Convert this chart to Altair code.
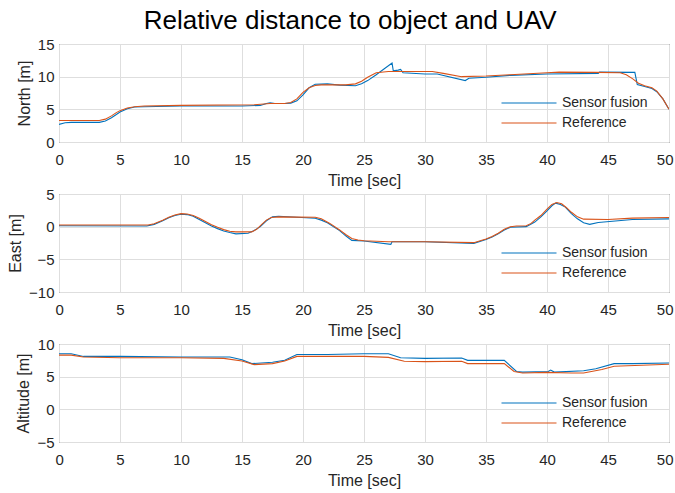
import altair as alt
import pandas as pd

SERIES = ["Sensor fusion", "Reference"]
COLORS = ["#0072BD", "#D95319"]
FONT = "Liberation Sans"
TXT = "#262626"
GRID = "#dedede"

# ---- North ----
north_fus_t = [0, 0.5, 1, 3.3, 3.8, 4.3, 4.7, 5, 5.6, 6.2, 7, 10, 15, 16.5, 17.0, 17.3, 17.7, 18.5, 19, 19.5, 20, 20.5, 21, 22, 23, 24.3, 24.8, 25.3, 26, 27.3, 27.4, 27.8, 28.0, 28.2, 30, 31, 33.3, 33.6, 35, 37, 40, 44.2, 44.3, 47.2, 47.4, 48, 48.6, 49, 49.5, 50]
north_fus_v = [2.7, 2.95, 3.0, 3.0, 3.2, 3.7, 4.2, 4.6, 5.1, 5.35, 5.4, 5.5, 5.5, 5.6, 5.9, 6.0, 5.9, 5.9, 5.95, 6.3, 7.2, 8.3, 8.85, 8.9, 8.7, 8.6, 8.9, 9.4, 10.3, 12.1, 10.9, 11.0, 11.1, 10.6, 10.4, 10.4, 9.4, 9.75, 9.9, 10.2, 10.4, 10.5, 10.7, 10.65, 8.8, 8.5, 8.2, 7.7, 6.6, 5.0]
north_ref_t = [0, 3.3, 3.8, 4.3, 4.7, 5, 5.6, 6.2, 7, 10, 16, 17.3, 18.5, 19, 19.5, 20, 20.5, 21, 21.5, 22, 23.5, 24.3, 24.8, 25.3, 26, 27, 29, 30.6, 31.5, 33, 35, 37, 40, 41, 44, 46, 46.5, 47, 47.5, 48, 48.6, 49, 49.5, 50]
north_ref_v = [3.3, 3.3, 3.5, 4.0, 4.5, 4.8, 5.2, 5.4, 5.5, 5.6, 5.7, 5.9, 5.9, 6.05, 6.6, 7.6, 8.3, 8.65, 8.75, 8.75, 8.75, 8.9, 9.3, 9.9, 10.6, 10.8, 10.8, 10.8, 10.5, 10.0, 10.1, 10.3, 10.6, 10.7, 10.65, 10.6, 10.3, 9.7, 9.0, 8.6, 8.3, 7.8, 6.6, 5.0]

# ---- East ----
east_fus_t = [0, 7.2, 7.8, 8.5, 9, 9.5, 10, 10.5, 11, 11.5, 12, 12.5, 13, 13.5, 14, 14.5, 15.5, 16, 16.5, 17, 17.5, 18, 21, 21.5, 22, 23, 23.5, 24, 25, 27.2, 27.3, 30, 34, 35, 35.5, 36, 36.5, 37, 38.3, 39, 39.5, 40, 40.4, 40.7, 41.1, 41.5, 42, 42.5, 43, 43.5, 44.2, 47, 50]
east_fus_v = [0.15, 0.1, 0.35, 0.9, 1.35, 1.7, 1.9, 1.85, 1.6, 1.1, 0.6, 0.1, -0.3, -0.65, -0.9, -1.1, -1.0, -0.6, 0.0, 0.9, 1.5, 1.6, 1.3, 1.0, 0.6, -0.6, -1.4, -2.1, -2.2, -2.7, -2.3, -2.3, -2.55, -1.95, -1.6, -1.1, -0.5, -0.1, 0.0, 0.7, 1.5, 2.4, 3.2, 3.6, 3.4, 3.0, 2.0, 1.2, 0.6, 0.35, 0.65, 1.1, 1.2]
east_ref_t = [0, 7.3, 7.8, 8.5, 9, 9.5, 10, 10.5, 11, 11.5, 12, 12.5, 13, 13.5, 14, 14.5, 15, 15.8, 16.2, 16.6, 17, 17.4, 18, 21, 21.5, 22.2, 23, 23.5, 24, 24.5, 25, 27, 30, 34, 35, 35.5, 36, 36.5, 37, 37.5, 38.3, 38.7, 39, 39.5, 40, 40.4, 40.8, 41.2, 41.6, 42, 42.5, 43, 45, 47, 50]
east_ref_v = [0.25, 0.25, 0.45, 1.0, 1.45, 1.8, 2.0, 1.95, 1.7, 1.3, 0.8, 0.3, -0.1, -0.45, -0.7, -0.8, -0.8, -0.8, -0.4, 0.3, 1.0, 1.4, 1.5, 1.45, 1.2, 0.5, -0.5, -1.2, -1.8, -2.05, -2.15, -2.3, -2.3, -2.45, -1.9, -1.5, -1.0, -0.4, 0.0, 0.1, 0.15, 0.5, 1.0, 1.7, 2.7, 3.4, 3.7, 3.5, 2.9, 2.2, 1.5, 1.15, 1.1, 1.3, 1.4]

# ---- Altitude ----
alt_fus_t = [0, 1, 2, 5, 10, 14, 15, 15.8, 17.5, 18.5, 19.5, 22, 25, 27, 28, 30, 33, 33.5, 36.5, 37.5, 38, 40.1, 40.3, 40.6, 43, 44, 45.5, 47, 50]
alt_fus_v = [8.5, 8.5, 8.1, 8.1, 8.0, 8.0, 7.6, 7.0, 7.2, 7.5, 8.4, 8.4, 8.5, 8.5, 7.9, 7.8, 7.85, 7.5, 7.5, 5.8, 5.7, 5.8, 6.0, 5.7, 5.9, 6.2, 7.0, 7.0, 7.1]
alt_ref_t = [0, 1, 2, 5, 10, 13.5, 15, 16, 17.5, 18.5, 19.5, 22, 25, 27, 28.3, 30, 33, 33.5, 36.5, 37.3, 38, 40, 42, 43, 44.5, 45.5, 50]
alt_ref_v = [8.3, 8.3, 8.0, 7.9, 7.9, 7.8, 7.4, 6.85, 7.0, 7.4, 8.1, 8.1, 8.1, 7.95, 7.35, 7.3, 7.35, 7.0, 7.0, 5.8, 5.55, 5.65, 5.55, 5.55, 6.1, 6.6, 6.9]

x_ticks = [0, 5, 10, 15, 20, 25, 30, 35, 40, 45, 50]
north_ticks = [0, 5, 10, 15]
east_ticks = [-10, -5, 0, 5]
alt_ticks = [-5, 0, 5, 10]


def make_df(t1, v1, t2, v2):
    a = pd.DataFrame({"t": t1, "v": v1, "s": SERIES[0]})
    b = pd.DataFrame({"t": t2, "v": v2, "s": SERIES[1]})
    return pd.concat([a, b], ignore_index=True)


def panel(df, ytitle, yticks):
    return alt.Chart(df).mark_line(strokeWidth=1.1, clip=True).encode(
        x=alt.X("t:Q", scale=alt.Scale(domain=[0, 50], nice=False),
                axis=alt.Axis(title="Time [sec]", values=x_ticks, grid=True)),
        y=alt.Y("v:Q", scale=alt.Scale(domain=[yticks[0], yticks[-1]], nice=False),
                axis=alt.Axis(title=ytitle, values=yticks, grid=True)),
        color=alt.Color("s:N", sort=SERIES,
                        scale=alt.Scale(domain=SERIES, range=COLORS),
                        legend=alt.Legend(title=None, orient="none", legendX=463, legendY=52,
                                          symbolType="M-5,0H5", symbolSize=121,
                                          symbolStrokeWidth=1.2, labelOffset=26,
                                          rowPadding=6, padding=0,
                                          labelFont=FONT, labelFontSize=14, labelColor=TXT)),
    ).properties(width=610, height=98)


p1 = panel(make_df(north_fus_t, north_fus_v, north_ref_t, north_ref_v), "North [m]", north_ticks)
p2 = panel(make_df(east_fus_t, east_fus_v, east_ref_t, east_ref_v), "East [m]", east_ticks)
p3 = panel(make_df(alt_fus_t, alt_fus_v, alt_ref_t, alt_ref_v), "Altitude [m]", alt_ticks)

chart = alt.vconcat(p1, p2, p3, spacing=-3).resolve_legend(color="independent").properties(
    title=alt.TitleParams("Relative distance to object and UAV", anchor="middle", dx=10,
                          font=FONT, fontSize=26, fontWeight="normal", color="#000000", offset=3),
    padding={"left": 7, "right": 1, "top": 7, "bottom": 0},
).configure_view(stroke=TXT, strokeWidth=1).configure_axis(
    labelFont=FONT, labelFontSize=15, labelColor=TXT,
    titleFont=FONT, titleFontSize=16, titleFontWeight="normal", titleColor=TXT,
    gridColor=GRID, gridWidth=1, domain=False, ticks=False, tickSize=0,
).configure_axisX(
    labelPadding=10, titlePadding=5.5, labelFlush=True, labelFlushOffset=4,
).configure_axisY(
    labelPadding=5, titlePadding=5,
)

chart.save("out.html", embed_options={"renderer": "svg", "actions": False})
